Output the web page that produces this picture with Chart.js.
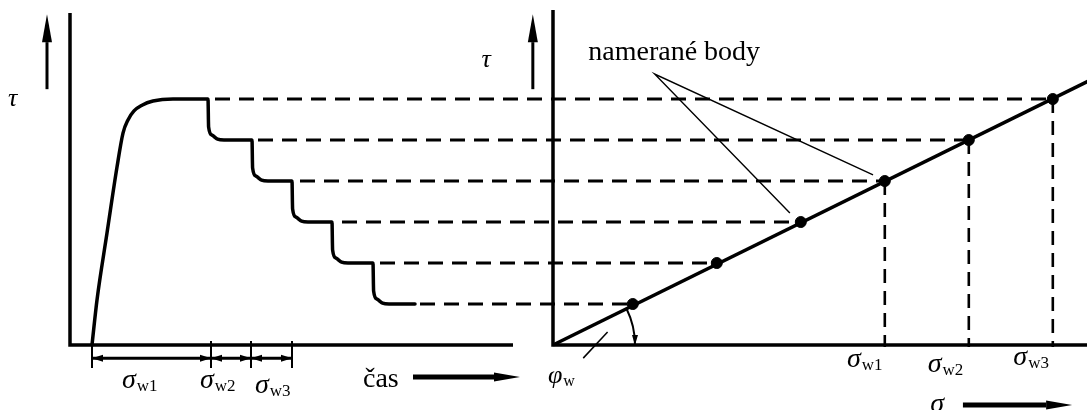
<!DOCTYPE html>
<html>
<head>
<meta charset="utf-8">
<title>Smykový test – namerané body</title>
<script src="https://cdn.jsdelivr.net/npm/chart.js@4.4.1/dist/chart.umd.min.js"></script>
<style>
  html, body { margin: 0; padding: 0; background: #fff; }
  canvas { display: block; }
</style>
</head>
<body>
<canvas id="diagram" width="1087" height="410"></canvas>
<script>
// shear stress reached in each stage and the normal stress it was measured at
const tauLevels = [1, 2, 3, 4, 5, 6];
const sigmaPoints = [0.95, 1.95, 2.95, 3.95, 4.95, 5.95];
// time where each τ level ends on the record (start of its dashed line)
const stageEnds = [17.5, 15.5, 13.6, 11.5, 9.4, 7.25];
// which measured points get a σw marker below them
const sigmaMarked = [3, 4, 5];
const sigmaNames = ['w1', 'w2', 'w3'];

// recorded shear stress over time
const shearCurve = [
  [1.1, 0], [1.35, 1.1], [1.85, 2.73], [2.35, 4.34], [2.65, 5.17], [2.9, 5.49],
  [3.2, 5.71], [3.6, 5.85], [4.15, 5.95], [5.15, 6], [6.9, 6],
  [6.93, 5.32], [7.1, 5.12], [7.38, 5.02], [7.7, 5], [9.1, 5],
  [9.13, 4.32], [9.3, 4.12], [9.58, 4.02], [9.9, 4], [11.1, 4],
  [11.13, 3.32], [11.3, 3.12], [11.58, 3.02], [11.9, 3], [13.1, 3],
  [13.13, 2.32], [13.3, 2.12], [13.58, 2.02], [13.9, 2], [15.15, 2],
  [15.18, 1.32], [15.35, 1.12], [15.63, 1.02], [15.95, 1], [17.25, 1]
];
// interval ticks below the time axis
const intervalTicks = [1.1, 7.05, 9.05, 11.1];

// failure line τ = σ·tan φw
const tanPhi = 1.01;
const sigmaLineEnd = 6.4;

// axis extents
const tauTop = 8.1;
const timeEnd = 22.15;
const sigmaEnd = 6.4;

const SERIF = '"Liberation Serif", "DejaVu Serif", serif';

function lineSet(axis, pts, width, extra) {
  return Object.assign({
    xAxisID: axis,
    yAxisID: 'y',
    data: pts.map(p => ({ x: p[0], y: p[1] })),
    showLine: true,
    borderColor: '#000',
    backgroundColor: '#000',
    borderWidth: width,
    pointRadius: 0,
    clip: false,
    fill: false
  }, extra || {});
}

function arrow(ctx, x1, y1, x2, y2, width, headLen, headHalf) {
  const a = Math.atan2(y2 - y1, x2 - x1);
  const bx = x2 - headLen * Math.cos(a);
  const by = y2 - headLen * Math.sin(a);
  ctx.lineWidth = width;
  ctx.beginPath();
  ctx.moveTo(x1, y1);
  ctx.lineTo(bx, by);
  ctx.stroke();
  ctx.beginPath();
  ctx.moveTo(x2, y2);
  ctx.lineTo(bx + headHalf * Math.sin(a), by - headHalf * Math.cos(a));
  ctx.lineTo(bx - headHalf * Math.sin(a), by + headHalf * Math.cos(a));
  ctx.closePath();
  ctx.fill();
}

function symbol(ctx, x, y, main, sub, size, italic) {
  ctx.font = (italic ? 'italic ' : '') + size + 'px ' + SERIF;
  ctx.textAlign = 'left';
  ctx.textBaseline = 'alphabetic';
  ctx.fillText(main, x, y);
  if (sub) {
    const w = ctx.measureText(main).width;
    ctx.font = Math.round(size * 0.6) + 'px ' + SERIF;
    ctx.fillText(sub, x + w + 1, y + 3);
  }
}

// text labels, placed in the units of the axis they belong to
const labels = [
  { axis: 'xt', at: -3.1, tau: 5.83, text: 'τ', size: 26, italic: true },
  { axis: 'xt', at: 2.6, tau: -1.05, text: 'σ', sub: 'w1', size: 28, italic: true },
  { axis: 'xt', at: 6.5, tau: -1.05, text: 'σ', sub: 'w2', size: 28, italic: true },
  { axis: 'xt', at: 9.25, tau: -1.17, text: 'σ', sub: 'w3', size: 28, italic: true },
  { axis: 'xt', at: 14.65, tau: -1.02, text: 'čas', size: 28 },
  { axis: 'xs', at: -0.85, tau: 6.78, text: 'τ', size: 26, italic: true },
  { axis: 'xs', at: 0.42, tau: 6.95, text: 'namerané body', size: 28 },
  { axis: 'xs', at: -0.06, tau: -0.93, text: 'φ', sub: 'w', size: 26, italic: true },
  { axis: 'xs', at: 4.49, tau: -1.63, text: 'σ', size: 28, italic: true }
];
// σw labels on the right side
const rightSigmaLabels = [
  { at: 3.5, tau: -0.54 },
  { at: 4.46, tau: -0.66 },
  { at: 5.48, tau: -0.49 }
];

const sketch = {
  id: 'sketch',
  beforeDatasetsDraw(chart) {
    const { ctx } = chart;
    const { xt, xs, y } = chart.scales;
    ctx.save();
    ctx.strokeStyle = '#000';
    ctx.lineWidth = 2.8;
    ctx.setLineDash([15, 9]);
    tauLevels.forEach((tau, i) => {
      const yy = y.getPixelForValue(tau);
      ctx.beginPath();
      ctx.moveTo(xt.getPixelForValue(stageEnds[i]), yy);
      ctx.lineTo(xs.getPixelForValue(sigmaPoints[i]), yy);
      ctx.stroke();
    });
    ctx.restore();
  },
  afterDatasetsDraw(chart) {
    const { ctx } = chart;
    const { xt, xs, y } = chart.scales;
    ctx.save();
    ctx.strokeStyle = '#000';
    ctx.fillStyle = '#000';
    ctx.lineCap = 'butt';

    // τ arrows next to both vertical axes
    arrow(ctx, xt.getPixelForValue(-1.15), y.getPixelForValue(6.24),
      xt.getPixelForValue(-1.15), y.getPixelForValue(8.07), 3, 28, 5);
    arrow(ctx, xs.getPixelForValue(-0.24), y.getPixelForValue(6.24),
      xs.getPixelForValue(-0.24), y.getPixelForValue(8.07), 3, 28, 5);

    // time and σ direction arrows
    arrow(ctx, xt.getPixelForValue(17.15), y.getPixelForValue(-0.78),
      xt.getPixelForValue(22.5), y.getPixelForValue(-0.78), 5, 26, 4.5);
    arrow(ctx, xs.getPixelForValue(4.88), y.getPixelForValue(-1.46),
      xs.getPixelForValue(6.18), y.getPixelForValue(-1.46), 5, 26, 4.5);

    // interval dimension line under the time axis
    const dy = y.getPixelForValue(-0.32);
    const tx = intervalTicks.map(t => xt.getPixelForValue(t));
    ctx.lineWidth = 3;
    ctx.beginPath();
    ctx.moveTo(tx[0], dy);
    ctx.lineTo(tx[tx.length - 1], dy);
    ctx.stroke();
    ctx.lineWidth = 2;
    tx.forEach(x => {
      ctx.beginPath();
      ctx.moveTo(x, y.getPixelForValue(0.1));
      ctx.lineTo(x, y.getPixelForValue(-0.56));
      ctx.stroke();
    });
    for (let i = 0; i < tx.length - 1; i++) {
      const a = tx[i], b = tx[i + 1];
      [[a, 1], [b, -1]].forEach(([x, dir]) => {
        ctx.beginPath();
        ctx.moveTo(x, dy);
        ctx.lineTo(x + dir * 11, dy - 3.5);
        ctx.lineTo(x + dir * 11, dy + 3.5);
        ctx.closePath();
        ctx.fill();
      });
    }

    // angle φw between the failure line and the σ axis
    const cx = xs.getPixelForValue(0);
    const cy = y.getPixelForValue(0);
    const ang = Math.atan2(cy - y.getPixelForValue(5 * tanPhi), xs.getPixelForValue(5) - cx);
    const r = 82;
    ctx.lineWidth = 2;
    ctx.beginPath();
    ctx.arc(cx, cy, r, -ang, 0);
    ctx.stroke();
    ctx.beginPath();
    ctx.moveTo(cx + r, cy);
    ctx.lineTo(cx + r - 3, cy - 10);
    ctx.lineTo(cx + r + 3, cy - 10);
    ctx.closePath();
    ctx.fill();

    // text
    labels.forEach(l => {
      const sc = l.axis === 'xt' ? xt : xs;
      symbol(ctx, sc.getPixelForValue(l.at), y.getPixelForValue(l.tau), l.text, l.sub, l.size, l.italic);
    });
    rightSigmaLabels.forEach((l, i) => {
      symbol(ctx, xs.getPixelForValue(l.at), y.getPixelForValue(l.tau), 'σ', sigmaNames[i], 28, true);
    });
    ctx.restore();
  }
};

const datasets = [
  // left panel axes and the shear record
  lineSet('xt', [[0, tauTop], [0, 0], [timeEnd, 0]], 3.5, { borderJoinStyle: 'miter' }),
  lineSet('xt', shearCurve, 3.5, { cubicInterpolationMode: 'monotone', borderJoinStyle: 'round', borderCapStyle: 'round' }),
  // right panel axes
  lineSet('xs', [[0, tauTop + 0.07], [0, 0], [sigmaEnd, 0]], 3.5, { borderJoinStyle: 'miter' }),
  // failure line through the measured points
  lineSet('xs', [[0, 0], [sigmaLineEnd, sigmaLineEnd * tanPhi]], 3.5),
  // pointer lines from the "namerané body" caption
  lineSet('xs', [[2.82, 3.22], [1.21, 6.61], [3.81, 4.15]], 1.4),
  // small mark for the φw label
  lineSet('xs', [[0.36, -0.32], [0.65, 0.32]], 1.5)
];
sigmaMarked.forEach(i => {
  datasets.push(lineSet('xs', [[sigmaPoints[i], tauLevels[i]], [sigmaPoints[i], -0.05]], 2.6,
    { borderDash: [14, 8] }));
});
datasets.push({
  xAxisID: 'xs',
  yAxisID: 'y',
  data: sigmaPoints.map((s, i) => ({ x: s, y: tauLevels[i] })),
  showLine: false,
  pointRadius: 5.5,
  pointBackgroundColor: '#000',
  pointBorderColor: '#000',
  clip: false
});

new Chart(document.getElementById('diagram'), {
  type: 'scatter',
  data: { datasets },
  options: {
    responsive: false,
    animation: false,
    events: [],
    layout: { padding: 0, autoPadding: false },
    plugins: { legend: { display: false }, tooltip: { enabled: false } },
    scales: {
      xt: { type: 'linear', axis: 'x', min: -3.5, max: 50.85, display: false },
      xs: { type: 'linear', axis: 'x', min: -6.583, max: 6.357, display: false },
      y: { type: 'linear', min: -1.585, max: 8.415, display: false }
    }
  },
  plugins: [sketch]
});
</script>
</body>
</html>
